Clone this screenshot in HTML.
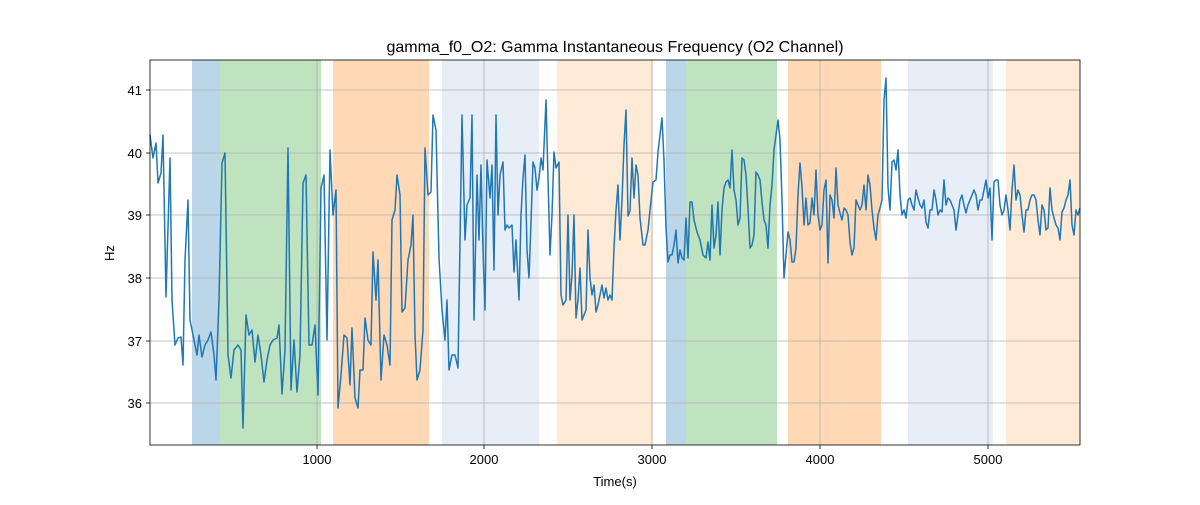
<!DOCTYPE html>
<html><head><meta charset="utf-8"><style>body{margin:0;background:#fff}</style></head><body>
<svg width="1200" height="500" xmlns="http://www.w3.org/2000/svg" font-family="Liberation Sans, DejaVu Sans, sans-serif">
<rect width="1200" height="500" fill="#fff"/>
<g>
<rect x="192" y="60" width="28" height="385" fill="#1f77b4" opacity="0.3"/>
<rect x="220" y="60" width="101" height="385" fill="#2ca02c" opacity="0.3"/>
<rect x="333" y="60" width="96" height="385" fill="#ff7f0e" opacity="0.3"/>
<rect x="442" y="60" width="97" height="385" fill="#aec7e8" opacity="0.3"/>
<rect x="557" y="60" width="96" height="385" fill="#ffbb78" opacity="0.3"/>
<rect x="666" y="60" width="20" height="385" fill="#1f77b4" opacity="0.3"/>
<rect x="686" y="60" width="91" height="385" fill="#2ca02c" opacity="0.3"/>
<rect x="788" y="60" width="93" height="385" fill="#ff7f0e" opacity="0.3"/>
<rect x="908" y="60" width="85" height="385" fill="#aec7e8" opacity="0.3"/>
<rect x="1006" y="60" width="74" height="385" fill="#ffbb78" opacity="0.3"/>
</g>
<g stroke="#b0b0b0" stroke-width="0.8">
<line x1="317" y1="60" x2="317" y2="445"/><line x1="484" y1="60" x2="484" y2="445"/><line x1="652" y1="60" x2="652" y2="445"/><line x1="820" y1="60" x2="820" y2="445"/><line x1="988" y1="60" x2="988" y2="445"/>
<line x1="150" y1="90" x2="1080" y2="90"/><line x1="150" y1="153" x2="1080" y2="153"/><line x1="150" y1="215" x2="1080" y2="215"/><line x1="150" y1="278" x2="1080" y2="278"/><line x1="150" y1="341" x2="1080" y2="341"/><line x1="150" y1="403" x2="1080" y2="403"/>
</g>
<polyline fill="none" stroke="#1f77b4" stroke-width="1.5" stroke-linejoin="round" points="150,135 153,158 156,143 158,183 161,173 163,135 166,297 170,158 172,300 175,345 178,338 181,337 183,365 185,260 188,200 190,320 194,340 197,355 199,335 202,357 205,345 208,340 211,332 214,355 216,380 219,300 222,163 225,153 228,355 231,378 234,350 238,345 241,350 243,428 246,315 249,335 252,330 255,362 258,335 261,355 264,382 267,360 270,345 273,340 277,338 279,325 282,394 285,350 288,148 291,390 294,340 297,392 300,355 303,183 306,175 309,345 312,345 315,325 318,395 321,188 324,175 327,340 330,150 333,215 336,190 338,408 341,375 344,335 347,338 350,385 352,328 355,398 358,408 360,370 363,370 365,318 368,340 371,345 373,252 376,300 378,260 381,380 384,335 387,345 390,365 392,220 395,210 397,175 400,195 402,312 405,308 408,260 411,245 413,215 415,335 417,380 420,370 423,330 425,148 428,195 431,192 433,115 436,130 439,258 442,310 445,340 447,300 449,370 452,355 455,355 458,368 462,115 465,240 467,205 470,198 472,115 474,320 477,175 479,240 481,165 483,250 485,310 487,160 490,198 492,165 494,270 496,115 498,215 500,175 503,162 505,230 507,225 509,228 512,225 514,272 516,240 519,300 521,215 523,178 525,155 527,250 529,278 531,222 533,162 535,168 537,190 539,178 541,158 543,170 546,100 550,255 552,215 554,152 556,168 559,162 561,295 563,305 566,300 568,215 570,300 572,275 574,215 576,318 578,300 580,268 582,320 584,315 586,310 588,230 590,278 592,295 594,285 596,312 598,305 600,295 602,285 604,298 606,288 608,300 610,295 612,300 614,248 616,210 618,185 620,240 622,200 624,145 626,110 628,216 630,211 632,158 634,198 636,165 638,175 640,218 643,245 645,245 648,230 650,210 653,182 656,180 658,152 660,135 662,118 664,160 666,228 668,262 670,255 672,255 674,245 676,230 678,263 680,250 682,258 684,260 686,218 688,258 690,202 692,202 694,220 697,232 700,240 703,255 706,258 708,242 710,260 712,205 714,248 716,235 718,202 720,255 722,210 724,188 726,182 728,180 730,188 732,150 734,190 736,200 738,225 740,218 742,158 744,160 746,175 748,208 750,248 752,245 754,235 756,172 758,175 760,180 762,202 764,220 766,225 768,248 770,205 772,185 774,150 776,135 778,120 780,140 782,200 784,278 786,255 788,232 790,240 792,262 794,262 796,248 798,195 800,163 802,187 804,225 806,198 808,225 810,223 812,198 814,215 816,170 818,215 820,230 822,225 824,190 826,180 828,263 830,195 832,200 834,218 836,168 838,205 840,213 842,220 844,208 846,210 848,215 850,242 852,255 854,248 856,200 858,205 860,210 862,205 864,185 866,210 868,175 870,185 872,210 874,228 876,240 878,215 880,208 882,200 884,100 886,78 888,187 890,210 892,162 894,160 896,170 898,150 900,195 902,215 904,210 906,218 908,200 910,198 912,205 914,210 916,190 918,198 920,205 922,208 924,200 926,222 928,228 930,210 932,210 934,190 936,200 938,215 940,210 942,212 944,180 946,205 948,198 950,200 952,205 954,210 956,230 958,215 960,200 962,195 964,205 966,213 968,205 970,200 972,195 974,190 976,195 978,210 980,200 982,200 984,190 986,180 988,198 990,188 992,240 994,182 996,180 998,180 1000,205 1002,215 1004,210 1006,195 1008,210 1010,230 1012,190 1014,165 1016,200 1018,190 1020,195 1022,215 1024,232 1026,210 1028,210 1030,200 1032,195 1034,195 1036,200 1038,220 1040,235 1042,205 1044,210 1046,230 1048,228 1050,188 1052,210 1054,218 1056,225 1058,228 1060,240 1062,212 1064,208 1066,200 1068,195 1070,180 1072,225 1074,235 1076,210 1078,215 1080,208"/>
<rect x="150" y="60" width="930" height="385" fill="none" stroke="#000" stroke-width="0.8"/>
<g stroke="#000" stroke-width="0.8">
<line x1="317" y1="445" x2="317" y2="449"/><line x1="484" y1="445" x2="484" y2="449"/><line x1="652" y1="445" x2="652" y2="449"/><line x1="820" y1="445" x2="820" y2="449"/><line x1="988" y1="445" x2="988" y2="449"/>
<line x1="146" y1="90" x2="150" y2="90"/><line x1="146" y1="153" x2="150" y2="153"/><line x1="146" y1="215" x2="150" y2="215"/><line x1="146" y1="278" x2="150" y2="278"/><line x1="146" y1="341" x2="150" y2="341"/><line x1="146" y1="403" x2="150" y2="403"/>
</g>
<g font-size="13" fill="#000" text-anchor="middle">
<text x="317" y="464">1000</text><text x="484" y="464">2000</text><text x="652" y="464">3000</text><text x="820" y="464">4000</text><text x="988" y="464">5000</text>
<text x="615" y="486">Time(s)</text>
<text x="615" y="52" font-size="16">gamma_f0_O2: Gamma Instantaneous Frequency (O2 Channel)</text>
</g>
<g font-size="13" fill="#000" text-anchor="end">
<text x="142" y="95">41</text><text x="142" y="158">40</text><text x="142" y="220">39</text><text x="142" y="283">38</text><text x="142" y="346">37</text><text x="142" y="408">36</text>
</g>
<text x="114" y="253" font-size="13" text-anchor="middle" transform="rotate(-90 114 253)">Hz</text>
</svg>
</body></html>
